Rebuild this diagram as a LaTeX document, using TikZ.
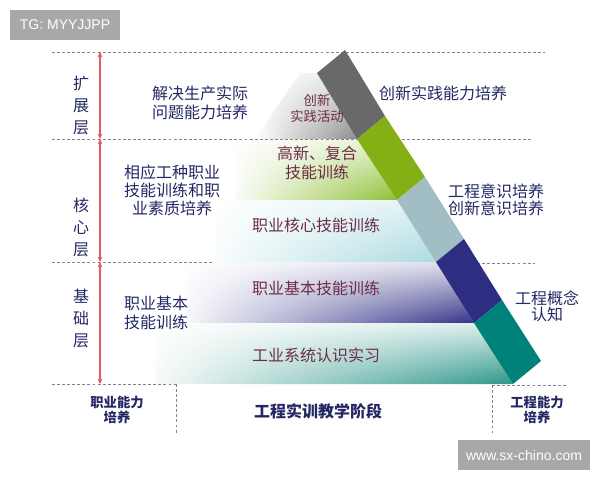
\documentclass[tikz,border=0pt]{standalone}
\usepackage{fontspec}
\setmainfont{Noto Sans CJK SC}
\newfontfamily\wmfont{Liberation Sans}
\usepackage{tikz}
\usetikzlibrary{calc,arrows.meta,shadings}

\definecolor{grayhi}{RGB}{232,232,232}
\definecolor{graylo}{RGB}{140,140,140}
\definecolor{greenhi}{RGB}{232,242,212}
\definecolor{greenlf}{RGB}{250,252,246}
\definecolor{greenlo}{RGB}{140,190,50}
\definecolor{cyanhi}{RGB}{225,242,244}
\definecolor{cyanlf}{RGB}{248,252,252}
\definecolor{cyanlo}{RGB}{170,218,224}
\definecolor{bluehi}{RGB}{222,222,236}
\definecolor{bluelf}{RGB}{248,248,252}
\definecolor{bluelo}{RGB}{50,50,135}
\definecolor{tealhi}{RGB}{220,238,235}
\definecolor{teallf}{RGB}{246,250,249}
\definecolor{teallo}{RGB}{45,150,138}

\begin{document}
\begin{tikzpicture}[x=0.75pt,y=0.75pt,yscale=-1,xscale=1,
  navytext/.style={text={rgb,255:red,35;green,40;blue,100},align=center,inner sep=0pt,font=\fontsize{12}{14.25}\selectfont},
  redtext/.style={text={rgb,255:red,110;green,45;blue,70},align=center,inner sep=0pt,font=\fontsize{12}{14.25}\selectfont},
  layertext/.style={navytext,font=\fontsize{12}{16.5}\selectfont},
  stagetext/.style={navytext,font=\bfseries\fontsize{10}{11.25}\selectfont},
  gridline/.style={draw={rgb,255:red,130;green,130;blue,150},line width=0.6pt,dash pattern=on 2.2pt off 1.6pt},
  layerarrow/.style={draw={rgb,255:red,225;green,90;blue,100},line width=0.8pt,{Stealth[length=4pt,width=3.6pt]}-{Stealth[length=4pt,width=3.6pt]}},
  markbox/.style={fill={rgb,255:red,168;green,168;blue,168},text=white,inner sep=0pt,font=\wmfont\fontsize{10.5}{12}\selectfont}
]
\useasboundingbox (0,0) rectangle (600,480);

% band corners (left edge) and layer ends
\coordinate (L0) at (317,73);
\coordinate (L1) at (357,139);
\coordinate (L2) at (397,200);
\coordinate (L3) at (436,262);
\coordinate (L4) at (474,323);
\coordinate (L5) at (513,384);

% shaded layers
\shade[upper left=white,upper right=grayhi,lower left=white,lower right=graylo]
  (255,139) -- (L1) -- (L0) -- (300,73) -- cycle;
\shade[upper left=white,upper right=greenhi,lower left=greenlf,lower right=greenlo]
  (235,200) -- (L2) -- (L1) -- (235,139) -- cycle;
\shade[upper left=white,upper right=cyanhi,lower left=cyanlf,lower right=cyanlo]
  (215,262) -- (L3) -- (L2) -- (215,200) -- cycle;
\shade[upper left=white,upper right=bluehi,lower left=bluelf,lower right=bluelo]
  (185,323) -- (L4) -- (L3) -- (185,262) -- cycle;
\shade[upper left=white,upper right=tealhi,lower left=teallf,lower right=teallo]
  (155,384) -- (L5) -- (L4) -- (155,323) -- cycle;

% grid
\coordinate (g1a) at (52,52);   \coordinate (g1b) at (545,52);
\coordinate (g2a) at (52,139);  \coordinate (g2b) at (533,139);
\coordinate (g3a) at (52,262);  \coordinate (g3b) at (212,262);
\coordinate (g3c) at (477,263); \coordinate (g3d) at (535,263);
\coordinate (g4a) at (52,384);  \coordinate (g4b) at (176,384);
\coordinate (g4c) at (492,385); \coordinate (g4d) at (566,385);
\coordinate (v1b) at (176,433); \coordinate (v2b) at (492,433);
\draw[gridline] (g1a) -- (g1b);
\draw[gridline] (g2a) -- (g2b);
\draw[gridline] (g3a) -- (g3b);
\draw[gridline] (g3c) -- (g3d);
\draw[gridline] (g4a) -- (g4b);
\draw[gridline] (g4c) -- (g4d);
\draw[gridline] (g4b) -- (v1b);
\draw[gridline] (g4c) -- (v2b);

% slanted band
\fill[fill={rgb,255:red,105;green,105;blue,105}] (L0) -- (L1) -- ($(L1)+(28,-23)$) -- ($(L0)+(28,-23)$) -- cycle;
\fill[fill={rgb,255:red,132;green,176;blue,22}] (L1) -- (L2) -- ($(L2)+(28,-23)$) -- ($(L1)+(28,-23)$) -- cycle;
\fill[fill={rgb,255:red,160;green,190;blue,195}] (L2) -- (L3) -- ($(L3)+(28,-23)$) -- ($(L2)+(28,-23)$) -- cycle;
\fill[fill={rgb,255:red,45;green,45;blue,130}] (L3) -- (L4) -- ($(L4)+(28,-23)$) -- ($(L3)+(28,-23)$) -- cycle;
\fill[fill={rgb,255:red,0;green,130;blue,122}] (L4) -- (L5) -- ($(L5)+(28,-23)$) -- ($(L4)+(28,-23)$) -- cycle;

% layer arrows
\coordinate (r0) at (100,52);
\coordinate (r1) at (100,139);
\coordinate (r2) at (100,262);
\coordinate (r3) at (100,384);
\draw[layerarrow] (r0) -- (r1);
\draw[layerarrow] (r1) -- (r2);
\draw[layerarrow] (r2) -- (r3);

% labels
\node[layertext] (ext) at (81,105) {扩\\展\\层};
\node[layertext] (core) at (81,227) {核\\心\\层};
\node[layertext] (base) at (81,318) {基\\础\\层};

\node[navytext] (solve) at (200,103) {解决生产实际\\问题能力培养};
\node[navytext,font=\fontsize{12}{13.5}\selectfont] (trade) at (172,190) {相应工种职业\\技能训练和职\\业素质培养};
\node[navytext] (basic) at (156,313) {职业基本\\技能训练};

\node[redtext,font=\fontsize{10}{12}\selectfont] (act) at (317,108) {创新\\实践活动};
\node[redtext] (high) at (317,163) {高新、复合\\技能训练};
\node[redtext] (coreskill) at (316,225) {职业核心技能训练};
\node[redtext] (baseskill) at (316,288) {职业基本技能训练};
\node[redtext] (indus) at (316,355) {工业系统认识实习};

\node[navytext] (innov) at (443,93) {创新实践能力培养};
\node[navytext,font=\fontsize{12}{12.5}\selectfont] (aware) at (496,200) {工程意识培养\\创新意识培养};
\node[navytext,font=\fontsize{12}{12}\selectfont] (concept) at (547,306) {工程概念\\认知};

\node[stagetext] (job) at (117,410) {职业能力\\培养};
\node[stagetext,font=\bfseries\fontsize{12}{14}\selectfont] (stage) at (318,411) {工程实训教学阶段};
\node[stagetext] (eng) at (537,410) {工程能力\\培养};

% marks
\node[markbox,minimum width=82.5pt,minimum height=22.5pt] (tg) at (65,25) {TG: MYYJJPP};
\node[markbox,minimum width=99pt,minimum height=22.5pt] (site) at (524,455) {www.sx-chino.com};
\end{tikzpicture}
\end{document}
